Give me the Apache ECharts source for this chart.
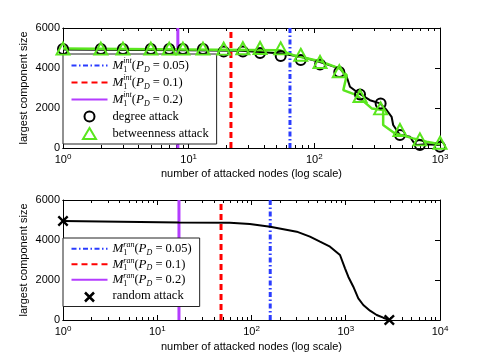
<!DOCTYPE html>
<html><head><meta charset="utf-8">
<script src="https://cdn.jsdelivr.net/npm/echarts@6/dist/echarts.min.js"></script>
<style>html,body{margin:0;padding:0;background:#fff}#c{width:485px;height:364px}</style>
</head><body><div id="c"></div>
<script>
// ---------- data ----------
const yTicks = [0, 2000, 4000, 6000];
const topXTicks = [1, 10, 100, 1000];
const botXTicks = [1, 10, 100, 1000, 10000];

// top panel: thresholds M1^int
const topThresholds = [64, 21.7, 8.2];          // P_D = 0.05, 0.1, 0.2
// bottom panel: thresholds M1^ran
const botThresholds = [158, 47.5, 17];
const pdLabels = ['0.05', '0.1', '0.2'];

// degree attack curve
const degLineX = [1, 10, 26, 37, 55, 64, 78, 111, 160, 181, 192, 217, 277, 333, 376, 412, 424, 480, 577, 612, 651, 782, 1000];
const degLineY = [4920, 4890, 4860, 4800, 4720, 4650, 4560, 4300, 3970, 3560, 3060, 2810, 2390, 2230, 1900, 1560, 1150, 650, 560, 310, 150, 185, 150];
// betweenness attack curve
const betLineX = [1, 53, 68, 111, 160, 181, 170, 217, 286, 353, 353, 438, 612, 782, 1000];
const betLineY = [4970, 4890, 4640, 4340, 3970, 3640, 2890, 2640, 1980, 1900, 1150, 730, 480, 310, 185];
// markers
const markX = [1, 2, 3, 5, 7, 9, 13, 19, 27, 37, 54, 78, 111, 158, 231, 337, 480, 692, 1000];
const degMarkY = [4950, 4950, 4950, 4950, 4950, 4950, 4950, 4830, 4820, 4750, 4600, 4400, 4170, 3800, 2680, 2230, 650, 150, 65];
const betMarkY = [4970, 4970, 4970, 4970, 4970, 4970, 4970, 4970, 4990, 5000, 4980, 4660, 4300, 3840, 2600, 1980, 900, 430, 260];

// random attack curve
const ranLineX = [1, 17, 59, 96, 158, 302, 417, 533, 681, 869, 982, 1064, 1203, 1359, 1535, 1808, 2130, 2500, 2900];
const ranLineY = [4950, 4880, 4865, 4800, 4667, 4417, 4167, 3915, 3665, 3250, 2585, 2165, 1665, 1085, 750, 465, 250, 115, 0];
const ranMarkX = [1, 2900];
const ranMarkY = [4950, 0];

// ---------- helpers ----------
const zip = (xs, ys) => xs.map((x, i) => [x, ys[i]]);
function minorTicks(maxExp) {
  const out = [];
  for (let e = 0; e < maxExp; e++) for (let k = 2; k <= 9; k++) out.push(k * Math.pow(10, e));
  return out;
}
const SANS = 'Liberation Sans';
const SERIF = 'Liberation Serif';
const colBlue = '#2a3cff', colRed = '#ff0000', colPurple = '#b43cff', colGreen = '#5ae61e';

function xAxes(gridIndex, max, majors, maxExp, nameGap) {
  const base = { type: 'log', logBase: 10, min: 1, max: max, gridIndex: gridIndex,
    splitLine: { show: false }, axisLine: { show: true, onZero: false, lineStyle: { color: '#000', width: 1 } } };
  return [
    Object.assign({}, base, { position: 'bottom',
      name: 'number of attacked nodes (log scale)', nameLocation: 'middle', nameGap: nameGap,
      nameTextStyle: { fontFamily: SANS, fontSize: 11, color: '#000' },
      axisTick: { show: true, inside: true, length: 5, customValues: majors, lineStyle: { color: '#000' } },
      axisLabel: { show: true, margin: 5, customValues: majors, showMinLabel: true, showMaxLabel: true,
        formatter: v => '{b|10}{s|' + Math.round(Math.log10(v)) + '}',
        rich: { b: { fontFamily: SANS, fontSize: 11, color: '#000', lineHeight: 14 },
                s: { fontFamily: SANS, fontSize: 8, color: '#000', lineHeight: 9, verticalAlign: 'top' } } } }),
    Object.assign({}, base, { position: 'bottom',
      axisTick: { show: true, inside: true, length: 3, customValues: minorTicks(maxExp), lineStyle: { color: '#000' } },
      axisLabel: { show: false } }),
    Object.assign({}, base, { position: 'top',
      axisTick: { show: true, inside: true, length: 5, customValues: majors, lineStyle: { color: '#000' } },
      axisLabel: { show: false } }),
    Object.assign({}, base, { position: 'top',
      axisTick: { show: true, inside: true, length: 3, customValues: minorTicks(maxExp), lineStyle: { color: '#000' } },
      axisLabel: { show: false } })
  ];
}
function yAxes(gridIndex) {
  const base = { type: 'value', min: yTicks[0], max: yTicks[yTicks.length - 1], interval: yTicks[1] - yTicks[0], gridIndex: gridIndex,
    splitLine: { show: false }, axisLine: { show: true, onZero: false, lineStyle: { color: '#000' } },
    axisTick: { show: true, inside: true, length: 5, lineStyle: { color: '#000' } } };
  return [
    Object.assign({}, base, { position: 'left', name: 'largest component size', nameLocation: 'middle', nameGap: 34,
      nameMoveOverlap: false,
      nameTextStyle: { fontFamily: SANS, fontSize: 11, color: '#000' },
      axisLabel: { margin: 3, fontFamily: SANS, fontSize: 11, color: '#000', formatter: v => String(v) } }),
    Object.assign({}, base, { position: 'right', axisLabel: { show: false } })
  ];
}

const legendNames = {
  t0: ['int', pdLabels[0]], t1: ['int', pdLabels[1]], t2: ['int', pdLabels[2]],
  b0: ['ran', pdLabels[0]], b1: ['ran', pdLabels[1]], b2: ['ran', pdLabels[2]]
};
function legendFmt(name) {
  const m = legendNames[name];
  if (!m) return '{t|' + name + '}';
  return '{m|M}{sub|1}{sup|' + m[0] + '}{t|(}{m|P}{sub2|D}{t| = ' + m[1] + ')}';
}
function richFor(lh) {
  return {
    t: { fontFamily: SERIF, fontSize: 12.5, color: '#000', lineHeight: lh },
    m: { fontFamily: SERIF, fontSize: 13, fontStyle: 'italic', color: '#000', lineHeight: lh },
    sub: { fontFamily: SERIF, fontSize: 8, color: '#000', lineHeight: 9, verticalAlign: 'bottom', width: 0 },
    sub2: { fontFamily: SERIF, fontSize: 8, fontStyle: 'italic', color: '#000', lineHeight: 9, verticalAlign: 'bottom' },
    sup: { fontFamily: SERIF, fontSize: 8, fontStyle: 'italic', color: '#000', lineHeight: 11, verticalAlign: 'top' }
  };
}

const lineStyles = [
  { color: colBlue, width: 3, type: [5, 2.5, 1.5, 2.5] },
  { color: colRed, width: 3, type: [6, 4] },
  { color: colPurple, width: 3, type: 'solid' }
];

const series = [];
topThresholds.forEach((x, i) => series.push({
  name: 't' + i, type: 'line', xAxisIndex: 0, yAxisIndex: 0, symbol: 'none',
  data: [[x, 0], [x, 6000]], lineStyle: lineStyles[i], itemStyle: { color: lineStyles[i].color }, silent: true, z: 2
}));
series.push({ type: 'line', xAxisIndex: 0, yAxisIndex: 0, symbol: 'none', data: zip(degLineX, degLineY),
  lineStyle: { color: '#000', width: 2 }, z: 3 });
series.push({ type: 'line', xAxisIndex: 0, yAxisIndex: 0, symbol: 'none', data: zip(betLineX, betLineY),
  lineStyle: { color: colGreen, width: 2.5 }, z: 4 });
series.push({ name: 'degree attack', type: 'scatter', xAxisIndex: 0, yAxisIndex: 0, symbol: 'circle', symbolSize: 10,
  data: zip(markX, degMarkY), itemStyle: { color: 'none', opacity: 1, borderColor: '#000', borderWidth: 2 }, z: 5 });
series.push({ name: 'betweenness attack', type: 'scatter', xAxisIndex: 0, yAxisIndex: 0, symbol: 'triangle', symbolSize: [13, 12],
  data: zip(markX, betMarkY), itemStyle: { color: 'none', opacity: 1, borderColor: colGreen, borderWidth: 2 }, z: 6 });

botThresholds.forEach((x, i) => series.push({
  name: 'b' + i, type: 'line', xAxisIndex: 4, yAxisIndex: 2, symbol: 'none',
  data: [[x, 0], [x, 6000]], lineStyle: lineStyles[i], itemStyle: { color: lineStyles[i].color }, silent: true, z: 2
}));
series.push({ type: 'line', xAxisIndex: 4, yAxisIndex: 2, symbol: 'none', data: zip(ranLineX, ranLineY),
  lineStyle: { color: '#000', width: 2 }, z: 3 });
const crossPath = 'path://M0,1.5L1.5,0L5,3.5L8.5,0L10,1.5L6.5,5L10,8.5L8.5,10L5,6.5L1.5,10L0,8.5L3.5,5Z';
series.push({ name: 'random attack', type: 'scatter', xAxisIndex: 4, yAxisIndex: 2, symbol: crossPath, symbolSize: 11,
  data: zip(ranMarkX, ranMarkY), itemStyle: { color: '#000', opacity: 1 }, z: 5, clip: false });

// legend icons framed in the 36x12 icon box so they are not stretched
const legCircle = 'path://M0,0M36,12M13,6A5,5,0,1,1,23,6A5,5,0,1,1,13,6Z';
const legTriangle = 'path://M0,0M36,12M11.5,11.5L24.5,11.5L18,0.5Z';
const legCross = 'path://M0,0M36,12M13.5,2.5L22.5,11.5M22.5,2.5L13.5,11.5';
const hideSym = { opacity: 0 };
const legendBase = { orient: 'vertical', left: 63, itemWidth: 36, itemHeight: 12, itemGap: 0,
  backgroundColor: '#fff', borderColor: '#222', borderWidth: 1, borderRadius: 0, selectedMode: false,
  formatter: legendFmt };
const option = {
  animation: false,
  backgroundColor: '#fff',
  grid: [
    { left: 63, right: 45, top: 28, height: 120, show: false },
    { left: 63, right: 45, top: 200, height: 120, show: false }
  ],
  xAxis: [].concat(xAxes(0, 1000, topXTicks, 3, 20), xAxes(1, 10000, botXTicks, 4, 21)),
  yAxis: [].concat(yAxes(0), yAxes(1)),
  legend: [
    Object.assign({}, legendBase, { top: 54, padding: [3, 8, 2, 6],
      data: [{ name: 't0', itemStyle: hideSym }, { name: 't1', itemStyle: hideSym }, { name: 't2', itemStyle: hideSym },
             { name: 'degree attack', icon: legCircle, itemStyle: { color: 'none', borderColor: '#000', borderWidth: 2 } },
             { name: 'betweenness attack', icon: legTriangle, itemStyle: { color: 'none', borderColor: colGreen, borderWidth: 2 } }],
      textStyle: { rich: richFor(17) } }),
    Object.assign({}, legendBase, { top: 238, padding: [3, 8, 2, 6],
      data: [{ name: 'b0', itemStyle: hideSym }, { name: 'b1', itemStyle: hideSym }, { name: 'b2', itemStyle: hideSym },
             { name: 'random attack', icon: legCross, itemStyle: { color: 'none', borderColor: '#000', borderWidth: 2.5 } }],
      textStyle: { rich: richFor(15.5) } })
  ],
  series: series
};
const chart = echarts.init(document.getElementById('c'), null, { renderer: 'canvas' });
chart.setOption(option);
</script></body></html>
